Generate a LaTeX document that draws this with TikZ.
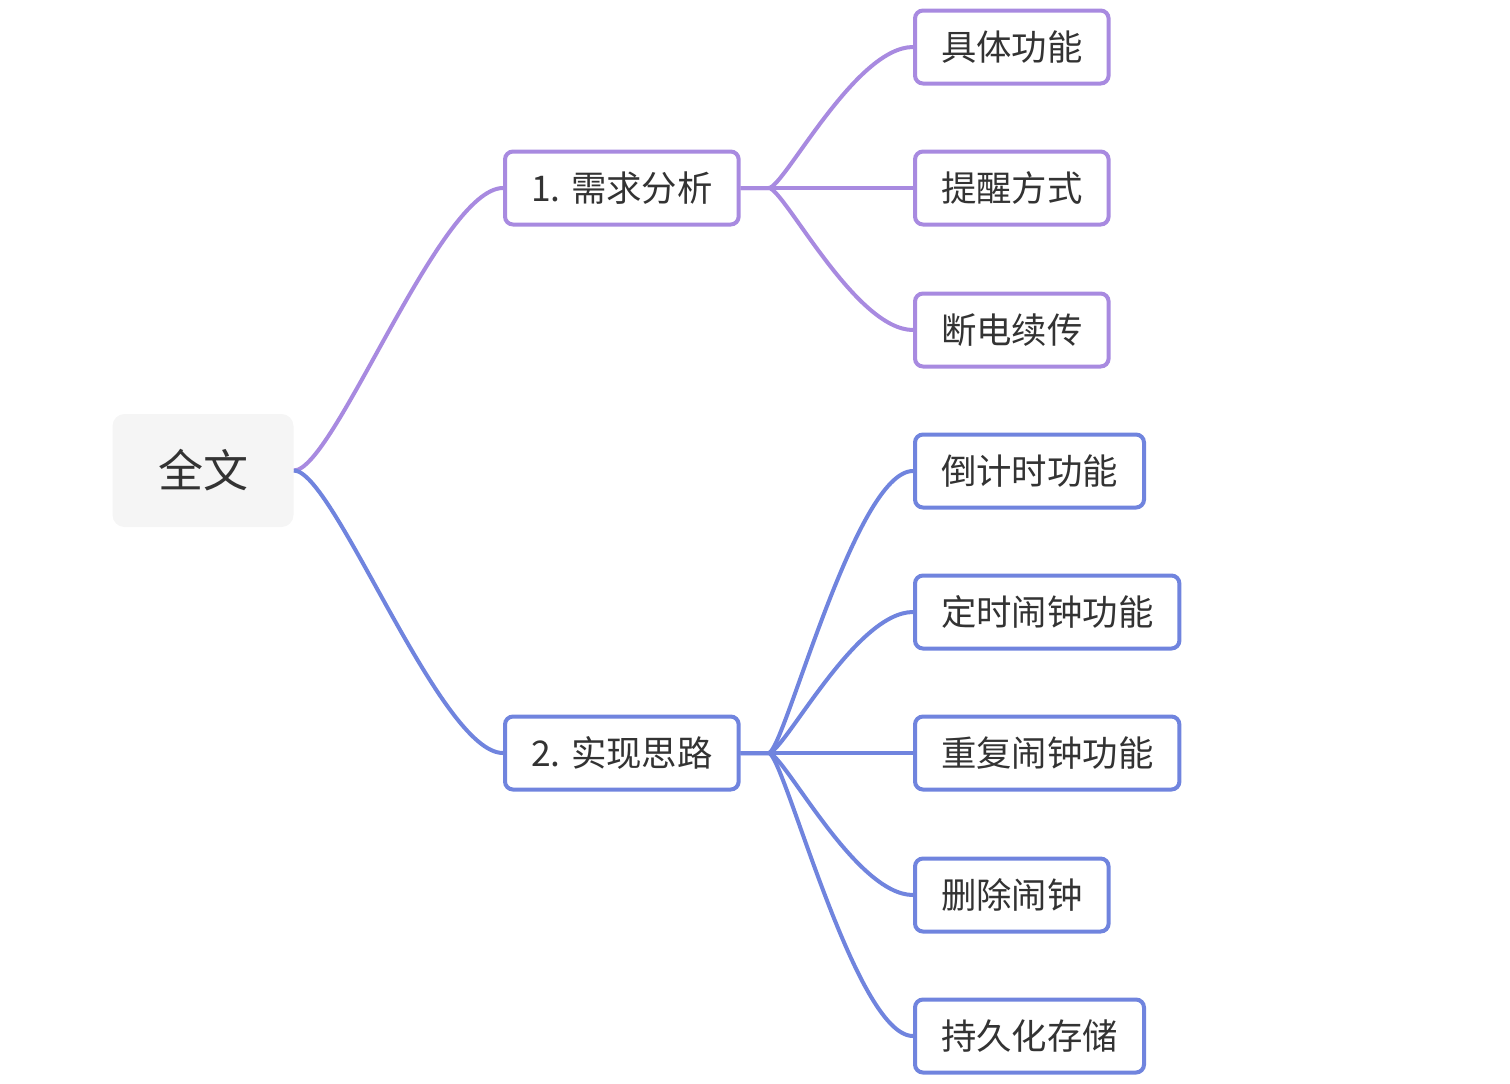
\documentclass[tikz,border=0pt]{standalone}
\usepackage{fontspec}
\newfontfamily\cjk{Noto Sans CJK SC}
\definecolor{txtgray}{HTML}{333333}
\definecolor{rootfill}{HTML}{F5F5F5}
\definecolor{lilac}{HTML}{A88AE0}
\definecolor{cornflower}{HTML}{7084DE}

\begin{document}
\begin{tikzpicture}
  [x=0.5pt,y=-0.5pt,
   every node/.style={font=\cjk\fontsize{17.7}{21}\selectfont,text=txtgray},
   rootbox/.style={fill=rootfill,rounded corners=6pt,minimum width=90.5pt,minimum height=56.5pt,
     font=\cjk\fontsize{22.5}{26}\selectfont},
   topicbox/.style={draw,line width=2pt,rounded corners=4pt,fill=white,inner xsep=13pt,
     minimum height=36.5pt,anchor=west},
   branch/.style={line width=2pt}]
  \useasboundingbox (0,0) rectangle (1510,1083);

  \node[rootbox] (root) at (203,470.5) {全文};

  \node[topicbox,draw=lilac] (req) at (503,188) {1. 需求分析};
  \node[topicbox,draw=cornflower] (impl) at (503,753) {2. 实现思路};

  \node[topicbox,draw=lilac] (r1) at (913,47) {具体功能};
  \node[topicbox,draw=lilac] (r2) at (913,188) {提醒方式};
  \node[topicbox,draw=lilac] (r3) at (913,330) {断电续传};

  \node[topicbox,draw=cornflower] (i1) at (913,471) {倒计时功能};
  \node[topicbox,draw=cornflower] (i2) at (913,612) {定时闹钟功能};
  \node[topicbox,draw=cornflower] (i3) at (913,753) {重复闹钟功能};
  \node[topicbox,draw=cornflower] (i4) at (913,895) {删除闹钟};
  \node[topicbox,draw=cornflower] (i5) at (913,1036) {持久化存储};

  \draw[branch,lilac] (root.east) .. controls +(40,0) and +(-63,0) .. (req.west);
  \draw[branch,cornflower] (root.east) .. controls +(40,0) and +(-63,0) .. (impl.west);

  \draw[branch,lilac] (req.east) -- ++(28,0) .. controls +(15,0) and +(-58,0) .. (r1.west);
  \draw[branch,lilac] (req.east) -- (r2.west);
  \draw[branch,lilac] (req.east) -- ++(28,0) .. controls +(15,0) and +(-58,0) .. (r3.west);

  \draw[branch,cornflower] (impl.east) -- ++(28,0) .. controls +(15,0) and +(-58,0) .. (i1.west);
  \draw[branch,cornflower] (impl.east) -- ++(28,0) .. controls +(15,0) and +(-58,0) .. (i2.west);
  \draw[branch,cornflower] (impl.east) -- (i3.west);
  \draw[branch,cornflower] (impl.east) -- ++(28,0) .. controls +(15,0) and +(-58,0) .. (i4.west);
  \draw[branch,cornflower] (impl.east) -- ++(28,0) .. controls +(15,0) and +(-58,0) .. (i5.west);
\end{tikzpicture}
\end{document}
